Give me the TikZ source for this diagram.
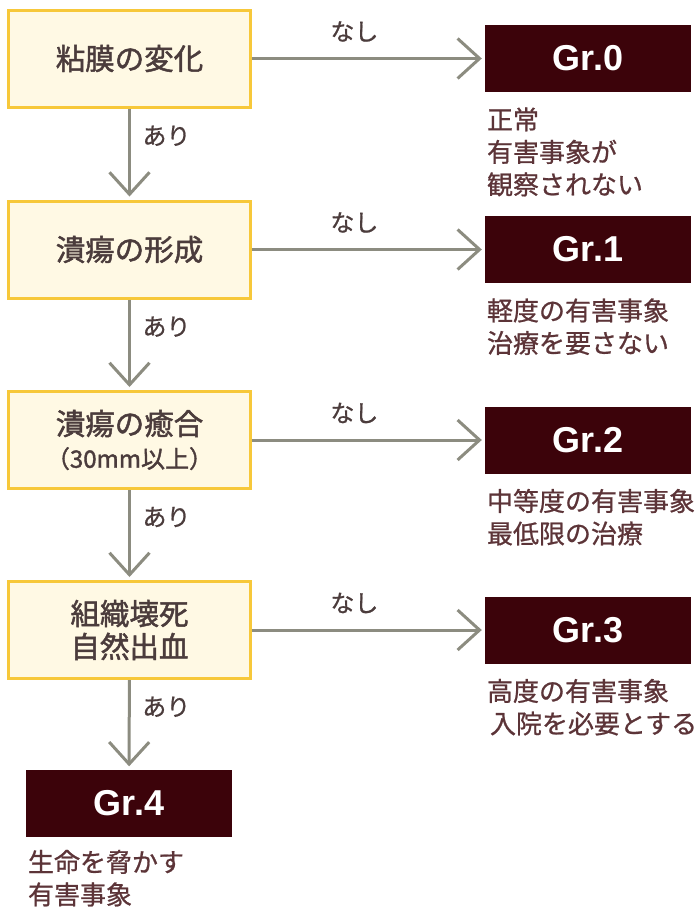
\documentclass[tikz,border=0pt]{standalone}
\usepackage{fontspec}
\setmainfont{Noto Sans CJK JP}
\newfontfamily\stagefont{Noto Sans CJK JP}[RawFeature={embolden=1.6}]
\newfontfamily\medfont{Noto Sans CJK JP}[RawFeature={embolden=0.8}]
\newfontfamily\grfont{Liberation Sans}
\usetikzlibrary{arrows.meta}

\definecolor{boxfill}{RGB}{255,249,228}
\definecolor{boxline}{RGB}{247,200,58}
\definecolor{grfill}{RGB}{60,3,10}
\definecolor{flowgray}{RGB}{140,140,128}
\definecolor{txtbrown}{RGB}{75,60,60}
\definecolor{descbrown}{RGB}{92,52,56}

\begin{document}
\begin{tikzpicture}[x=1pt, y=-1pt,
        stage/.style={draw=boxline, line width=3pt, fill=boxfill, minimum width=242pt, minimum height=97pt, align=center, text=txtbrown, font=\stagefont\fontsize{29.5}{33}\selectfont},
        grade/.style={fill=grfill, minimum width=206pt, minimum height=67pt, text=white, font=\grfont\bfseries\fontsize{36}{36}\selectfont},
        desc/.style={anchor=north west, inner sep=0pt, align=left, text=descbrown, font=\medfont\fontsize{26}{32.5}\selectfont},
        lbl/.style={text=txtbrown, font=\medfont\fontsize{24}{24}\selectfont},
        flow/.style={draw=flowgray, line width=3pt, -{Straight Barb[length=22pt, width=40pt, line width=3pt]}, shorten >=3pt}]
    \useasboundingbox (0,0) rectangle (696,910);
    % left column
    \node[stage] (mucosa) at (129.5,58.5) {粘膜の変化};
    \node[stage] (ulcer) at (129.5,249.5) {潰瘍の形成};
    \node[stage] (heal) at (129.5,440) {潰瘍の癒合\\{\fontsize{24}{27}\selectfont （30mm以上）}};
    \node[stage] (necrosis) at (129.5,630) {組織壊死\\自然出血};
    % grades
    \node[grade] (gr0) at (588,58.5) {Gr.0};
    \node[grade] (gr1) at (588,249.5) {Gr.1};
    \node[grade] (gr2) at (588,440) {Gr.2};
    \node[grade] (gr3) at (588,630) {Gr.3};
    \node[grade] (gr4) at (129,803) {Gr.4};
    \node[desc] (desc0) at ([xshift=2pt,yshift=-15pt]gr0.south west) {正常\\有害事象が\\観察されない};
    \node[desc] (desc1) at ([xshift=2pt,yshift=-15pt]gr1.south west) {軽度の有害事象\\治療を要さない};
    \node[desc] (desc2) at ([xshift=2pt,yshift=-15pt]gr2.south west) {中等度の有害事象\\最低限の治療};
    \node[desc] (desc3) at ([xshift=2pt,yshift=-15pt]gr3.south west) {高度の有害事象\\\hspace{3pt}入院を必要とする};
    \node[desc] (desc4) at ([xshift=2pt,yshift=-13pt]gr4.south west) {生命を脅かす\\有害事象};
    % connectors
    \draw[flow] (mucosa) -- node[lbl, pos=.44, yshift=27pt] {なし} (gr0);
    \draw[flow] (ulcer) -- node[lbl, pos=.44, yshift=27pt] {なし} (gr1);
    \draw[flow] (heal) -- node[lbl, pos=.44, yshift=27pt] {なし} (gr2);
    \draw[flow] (necrosis) -- node[lbl, pos=.44, yshift=27pt] {なし} (gr3);
    \draw[flow] (mucosa) -- node[lbl, pos=.3, xshift=37pt] {あり} (ulcer);
    \draw[flow] (ulcer) -- node[lbl, pos=.3, xshift=37pt] {あり} (heal);
    \draw[flow] (heal) -- node[lbl, pos=.3, xshift=37pt] {あり} (necrosis);
    \draw[flow] (necrosis) -- node[lbl, pos=.3, xshift=37pt] {あり} (gr4);
\end{tikzpicture}
\end{document}
